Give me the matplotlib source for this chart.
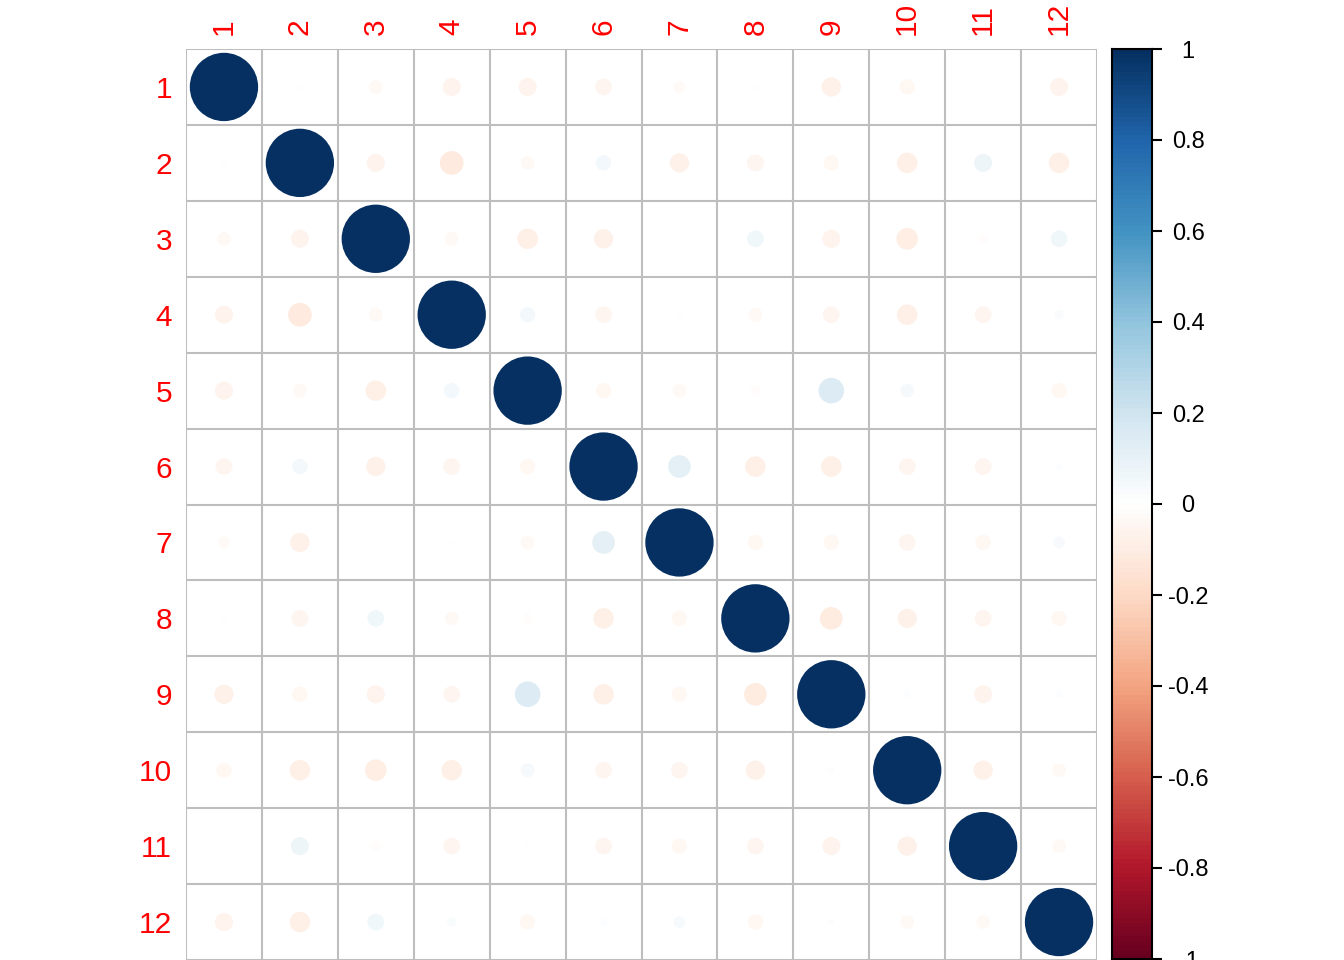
import numpy as np
import matplotlib
matplotlib.use("Agg")
import matplotlib.pyplot as plt
from matplotlib.colors import LinearSegmentedColormap
from matplotlib.patches import Circle

plt.rcParams['font.family'] = ['Liberation Sans', 'DejaVu Sans']

# variable names (1..12)
labels = [str(i) for i in range(1, 13)]

# upper triangle of the correlation matrix, row by row (values right of the diagonal)
upper = [
    [-0.01, -0.04, -0.07, -0.07, -0.06, -0.03, -0.01, -0.08, -0.05, 0.00, -0.07],
    [-0.07, -0.12, -0.04, 0.05, -0.08, -0.06, -0.05, -0.09, 0.07, -0.09],
    [-0.04, -0.09, -0.08, -0.005, 0.06, -0.07, -0.10, -0.02, 0.06],
    [0.05, -0.06, -0.01, -0.04, -0.06, -0.09, -0.06, 0.02],
    [-0.05, -0.04, -0.02, 0.14, 0.04, 0.005, -0.05],
    [0.11, -0.09, -0.09, -0.06, -0.06, 0.01],
    [-0.05, -0.05, -0.06, -0.05, 0.03],
    [-0.11, -0.08, -0.06, -0.05],
    [0.01, -0.07, 0.01],
    [-0.08, -0.04],
    [-0.04],
]

n = len(labels)
corr = np.eye(n)
for i, row in enumerate(upper):
    for k, v in enumerate(row):
        j = i + 1 + k
        corr[i, j] = v
        corr[j, i] = v

# corrplot's default RdBu palette
col2 = ["#67001F", "#B2182B", "#D6604D", "#F4A582", "#FDDBC7", "#FFFFFF",
        "#D1E5F0", "#92C5DE", "#4393C3", "#2166AC", "#053061"]
cmap = LinearSegmentedColormap.from_list("corrplot", col2, N=200)

W, H = 1344, 960
fig = plt.figure(figsize=(W / 100, H / 100), dpi=100)

# matrix panel (pixel box: x 186-1097, y 49-960)
ax = fig.add_axes([186 / W, 0 / H, 911 / W, 911 / H])
ax.set_xlim(0.5, n + 0.5)
ax.set_ylim(n + 0.5, 0.5)
ax.set_aspect('equal')
for s in ax.spines.values():
    s.set_visible(False)

for k in range(n + 1):
    ax.plot([k + 0.5, k + 0.5], [0.5, n + 0.5], color='#BEBEBE', lw=1.5, zorder=1)
    ax.plot([0.5, n + 0.5], [k + 0.5, k + 0.5], color='#BEBEBE', lw=1.5, zorder=1)

for i in range(n):
    for j in range(n):
        c = corr[i, j]
        r = 0.45 * np.sqrt(abs(c))
        if r <= 0:
            continue
        ax.add_patch(Circle((j + 1, i + 1), r, facecolor=cmap((c + 1) / 2),
                            edgecolor='none', zorder=2))

ax.set_xticks(range(1, n + 1))
ax.set_xticklabels(labels, rotation=90, color='red', fontsize=21.5)
ax.xaxis.tick_top()
ax.set_yticks(range(1, n + 1))
ax.set_yticklabels(labels, color='red', fontsize=21.5)
ax.tick_params(length=0, pad=10)
for t in ax.get_xticklabels():
    t.set_verticalalignment('bottom')

# colour legend
cax = fig.add_axes([1112 / W, 1 / H, 40 / W, 910 / H])
grad = np.linspace(-1, 1, 200).reshape(-1, 1)
cax.imshow(grad, cmap=cmap, vmin=-1, vmax=1, aspect='auto', origin='lower',
           extent=[0, 1, -1, 1])
cax.set_xticks([])
cax.set_xlim(0, 1)
cax.set_ylim(-1, 1)
for s in cax.spines.values():
    s.set_linewidth(1.5)
ticks = np.round(np.arange(-1, 1.01, 0.2), 1)
cax.yaxis.tick_right()
cax.set_yticks(ticks)
cax.set_yticklabels(['%g' % t if t != 0 else '0' for t in ticks], fontsize=17)
cax.tick_params(axis='y', length=7, width=1.5, pad=19)
for t in cax.get_yticklabels():
    t.set_horizontalalignment('center')

fig.savefig("out.png", dpi=100)
